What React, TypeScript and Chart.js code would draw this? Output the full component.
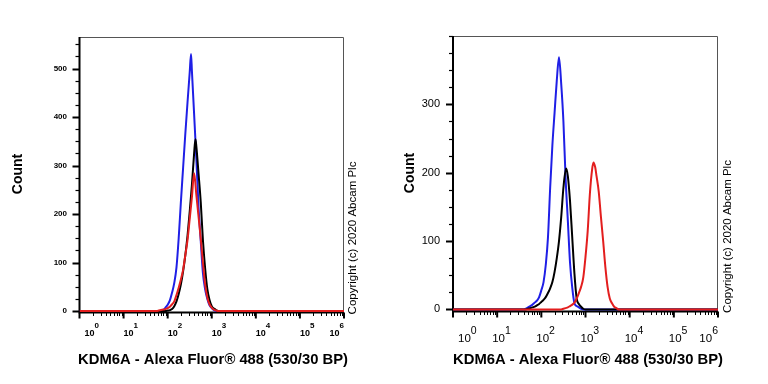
import React, { useEffect, useRef } from "react";
import { Chart, registerables } from "chart.js";

Chart.register(...registerables);

const FONT = '"Liberation Sans", Arial, Helvetica, sans-serif';

const AXIS_TITLE = "KDM6A - Alexa Fluor® 488 (530/30 BP)";
const COUNT_LABEL = "Count";
const COPYRIGHT = "Copyright (c) 2020 Abcam Plc";

// decade exponents used for the log axis tick labels (10^0 .. 10^6)
const DECADES = [0, 1, 2, 3, 4, 5, 6];

// ---- Panel 1 histograms (x as log10 of intensity, y as event count) ----
const leftBlueLog = [0, 1.85, 1.9, 1.95, 2.0, 2.05, 2.1, 2.15, 2.2, 2.25, 2.3, 2.35, 2.4, 2.45, 2.5, 2.53, 2.55, 2.6, 2.65, 2.7, 2.75, 2.8, 2.85, 2.9, 2.95, 3.0, 3.05, 3.1, 6];
const leftBlueCount = [0, 0, 2, 7, 13, 22, 38, 58, 90, 150, 225, 295, 365, 430, 492, 530, 495, 406, 315, 215, 145, 78, 45, 25, 12, 6, 2, 0, 0];

const leftBlackLog = [0, 1.95, 2.0, 2.05, 2.1, 2.15, 2.2, 2.25, 2.3, 2.35, 2.4, 2.45, 2.5, 2.55, 2.6, 2.63, 2.65, 2.7, 2.75, 2.8, 2.85, 2.9, 2.95, 3.0, 3.05, 3.1, 3.15, 6];
const leftBlackCount = [0, 0, 1, 2, 4, 10, 20, 35, 55, 82, 115, 155, 205, 260, 325, 354, 340, 284, 225, 146, 88, 45, 23, 10, 5, 2, 0, 0];

const leftRedLog = [0, 1.75, 1.8, 1.85, 1.9, 1.95, 2.0, 2.05, 2.1, 2.15, 2.2, 2.25, 2.3, 2.35, 2.4, 2.45, 2.5, 2.55, 2.6, 2.65, 2.7, 2.75, 2.8, 2.85, 2.9, 2.95, 3.0, 3.05, 3.1, 3.15, 6];
const leftRedCount = [0, 0, 1, 2, 3, 4, 6, 9, 14, 20, 33, 48, 65, 85, 115, 146, 190, 235, 284, 240, 195, 150, 100, 55, 28, 14, 7, 3, 1, 0, 0];

// ---- Panel 2 histograms ----
const rightBlueLog = [0, 1.6, 1.65, 1.7, 1.75, 1.8, 1.85, 1.9, 1.95, 2.0, 2.05, 2.1, 2.15, 2.2, 2.25, 2.3, 2.35, 2.4, 2.45, 2.5, 2.55, 2.6, 2.65, 2.7, 2.75, 2.8, 2.85, 2.9, 2.95, 6];
const rightBlueCount = [0, 0, 1, 3, 5, 7, 10, 13, 18, 28, 40, 65, 105, 178, 240, 288, 335, 369, 330, 275, 191, 130, 68, 32, 9, 5, 3, 1, 0, 0];

const rightBlackLog = [0, 1.65, 1.7, 1.75, 1.8, 1.85, 1.9, 1.95, 2.0, 2.05, 2.1, 2.15, 2.2, 2.25, 2.3, 2.35, 2.4, 2.45, 2.5, 2.56, 2.6, 2.65, 2.7, 2.75, 2.8, 2.85, 2.9, 2.95, 3.0, 6];
const rightBlackCount = [0, 0, 1, 2, 3, 4, 6, 8, 11, 14, 18, 24, 31, 40, 55, 75, 100, 135, 178, 206, 195, 158, 105, 52, 16, 8, 4, 1, 0, 0];

const rightRedLog = [0, 2.45, 2.5, 2.55, 2.6, 2.65, 2.7, 2.75, 2.8, 2.85, 2.9, 2.95, 3.0, 3.05, 3.1, 3.15, 3.18, 3.22, 3.25, 3.3, 3.35, 3.4, 3.45, 3.5, 3.55, 3.6, 3.65, 3.7, 3.75, 6];
const rightRedCount = [0, 0, 1, 2, 3, 5, 7, 10, 16, 24, 33, 47, 77, 115, 170, 205, 215, 208, 195, 172, 135, 100, 62, 33, 16, 9, 4, 2, 0, 0];

// y-axis tick values
const leftYLabels = [0, 100, 200, 300, 400, 500];
const rightYLabels = [0, 100, 200, 300];

const BLUE = "#1f1fe6";
const BLACK = "#000000";
const RED = "#e31e1e";

type Series = { log: number[]; count: number[]; color: string };

type PanelStyle = {
  offset: number;
  padding: { left: number; right: number; top: number; bottom: number };
  yMin: number;
  yMax: number;
  yLabels: number[];
  yMinorStep: number;
  yLabelRight: number;
  yLabelFont: string;
  xBaseFont: string;
  xSupFont: string;
  xBaseY: number;
  xSupY: number;
  xLabelShift: number;
  countPos: [number, number];
  titlePos: [number, number];
  copyPos: [number, number];
  series: Series[];
};

const panels: PanelStyle[] = [
  {
    offset: 0,
    padding: { left: 79.5, right: 40, top: 37, bottom: 71.5 },
    yMin: -3,
    yMax: 565,
    yLabels: leftYLabels,
    yMinorStep: 25,
    yLabelRight: 67,
    yLabelFont: `bold 8px ${FONT}`,
    xBaseFont: `bold 9px ${FONT}`,
    xSupFont: `bold 8px ${FONT}`,
    xBaseY: 335.5,
    xSupY: 327.5,
    xLabelShift: 0,
    countPos: [18, 174],
    titlePos: [213, 360],
    copyPos: [353, 238],
    series: [
      { log: leftRedLog, count: leftRedCount, color: RED },
      { log: leftBlackLog, count: leftBlackCount, color: BLACK },
      { log: leftBlueLog, count: leftBlueCount, color: BLUE },
    ],
  },
  {
    offset: 384,
    padding: { left: 69, right: 50, top: 36, bottom: 72.5 },
    yMin: -3,
    yMax: 400,
    yLabels: rightYLabels,
    yMinorStep: 25,
    yLabelRight: 56,
    yLabelFont: `11px ${FONT}`,
    xBaseFont: `11.5px ${FONT}`,
    xSupFont: `10.5px ${FONT}`,
    xBaseY: 342,
    xSupY: 333.5,
    xLabelShift: -5,
    countPos: [26, 173],
    titlePos: [204, 359.5],
    copyPos: [344, 236.5],
    series: [
      { log: rightRedLog, count: rightRedCount, color: RED },
      { log: rightBlackLog, count: rightBlackCount, color: BLACK },
      { log: rightBlueLog, count: rightBlueCount, color: BLUE },
    ],
  },
];

function makeDecor(p: PanelStyle) {
  return {
    id: "flowDecor",
    beforeDatasetsDraw(chart: any) {
      const { ctx, chartArea: a } = chart;
      ctx.save();
      // thin frame on top and right
      ctx.strokeStyle = "#555";
      ctx.lineWidth = 1;
      ctx.beginPath();
      ctx.moveTo(a.left, a.top + 0.5);
      ctx.lineTo(a.right - 0.5, a.top + 0.5);
      ctx.lineTo(a.right - 0.5, a.bottom);
      ctx.stroke();
      // heavier axes on left and bottom
      ctx.strokeStyle = "#000";
      ctx.lineWidth = 2;
      ctx.beginPath();
      ctx.moveTo(a.left, a.top);
      ctx.lineTo(a.left, a.bottom);
      ctx.lineTo(a.right, a.bottom);
      ctx.stroke();
      ctx.restore();
    },
    afterDraw(chart: any) {
      const { ctx, chartArea: a } = chart;
      const x = chart.scales.x;
      const y = chart.scales.y;
      ctx.save();
      ctx.fillStyle = "#000";
      ctx.strokeStyle = "#000";

      // y ticks: minor every 25, major at labelled values
      for (let v = 0; v <= p.yMax; v += p.yMinorStep) {
        const major = p.yLabels.includes(v);
        const py = Math.round(y.getPixelForValue(v)) + 0.5;
        ctx.lineWidth = major ? 2 : 1.2;
        ctx.beginPath();
        ctx.moveTo(a.left, py);
        ctx.lineTo(a.left - (major ? 7 : 4), py);
        ctx.stroke();
      }
      ctx.font = p.yLabelFont;
      ctx.textAlign = "right";
      ctx.textBaseline = "middle";
      for (const v of p.yLabels) {
        ctx.fillText(String(v), p.yLabelRight, y.getPixelForValue(v));
      }

      // x ticks: decades long, 2..9 multiples short
      for (let i = 0; i < DECADES.length; i++) {
        const d = DECADES[i];
        const px = x.getPixelForValue(Math.pow(10, d));
        ctx.lineWidth = 2;
        ctx.beginPath();
        ctx.moveTo(px, a.bottom);
        ctx.lineTo(px, a.bottom + 6);
        ctx.stroke();
        if (i < DECADES.length - 1) {
          ctx.lineWidth = 1;
          for (let m = 2; m <= 9; m++) {
            const mx = Math.round(x.getPixelForValue(m * Math.pow(10, d))) + 0.5;
            ctx.beginPath();
            ctx.moveTo(mx, a.bottom);
            ctx.lineTo(mx, a.bottom + 3.5);
            ctx.stroke();
          }
        }
      }

      // x tick labels as 10 with raised exponent
      ctx.textAlign = "left";
      ctx.textBaseline = "alphabetic";
      for (let i = 0; i < DECADES.length; i++) {
        const d = DECADES[i];
        const px = x.getPixelForValue(Math.pow(10, d));
        ctx.font = p.xBaseFont;
        const w1 = ctx.measureText("10").width;
        ctx.font = p.xSupFont;
        const w2 = ctx.measureText(String(d)).width;
        let left: number;
        if (i === 0) left = px + 5;
        else if (i === DECADES.length - 1) left = px - w1 - w2;
        else left = px + p.xLabelShift;
        ctx.font = p.xBaseFont;
        ctx.fillText("10", left, p.xBaseY);
        ctx.font = p.xSupFont;
        ctx.fillText(String(d), left + w1, p.xSupY);
      }

      // y axis title
      ctx.save();
      ctx.translate(p.countPos[0], p.countPos[1]);
      ctx.rotate(-Math.PI / 2);
      ctx.font = `bold 14px ${FONT}`;
      ctx.textAlign = "center";
      ctx.textBaseline = "middle";
      ctx.fillText(COUNT_LABEL, 0, 0);
      ctx.restore();

      // x axis title
      ctx.font = `bold 14.8px ${FONT}`;
      ctx.textAlign = "center";
      ctx.textBaseline = "middle";
      ctx.fillText(AXIS_TITLE, p.titlePos[0], p.titlePos[1]);

      // vertical copyright note
      ctx.save();
      ctx.translate(p.copyPos[0], p.copyPos[1]);
      ctx.rotate(-Math.PI / 2);
      ctx.font = `11.5px ${FONT}`;
      ctx.textAlign = "center";
      ctx.textBaseline = "middle";
      ctx.fillText(COPYRIGHT, 0, 0);
      ctx.restore();

      ctx.restore();
    },
  };
}

function HistogramPanel({ panel }: { panel: PanelStyle }) {
  const ref = useRef<HTMLCanvasElement>(null);

  useEffect(() => {
    if (!ref.current) return;
    const chart = new Chart(ref.current, {
      type: "line",
      data: {
        datasets: panel.series.map((s) => ({
          data: s.log.map((e, i) => ({ x: Math.pow(10, e), y: s.count[i] })),
          borderColor: s.color,
          borderWidth: 2,
          pointRadius: 0,
          fill: false,
          cubicInterpolationMode: "monotone" as const,
        })),
      },
      options: {
        responsive: false,
        animation: false,
        devicePixelRatio: 1,
        events: [],
        layout: { padding: panel.padding },
        plugins: { legend: { display: false }, tooltip: { enabled: false } },
        scales: {
          x: { type: "logarithmic", min: 1, max: 1e6, display: false },
          y: { type: "linear", min: panel.yMin, max: panel.yMax, display: false },
        },
      },
      plugins: [makeDecor(panel)],
    });
    return () => chart.destroy();
  }, [panel]);

  return (
    <canvas
      ref={ref}
      width={384}
      height={384}
      style={{ position: "absolute", left: panel.offset, top: 0, width: 384, height: 384 }}
    />
  );
}

export default function App() {
  return (
    <div style={{ position: "absolute", left: 0, top: 0, width: 768, height: 384, background: "#fff" }}>
      {panels.map((p, i) => (
        <HistogramPanel key={i} panel={p} />
      ))}
    </div>
  );
}
